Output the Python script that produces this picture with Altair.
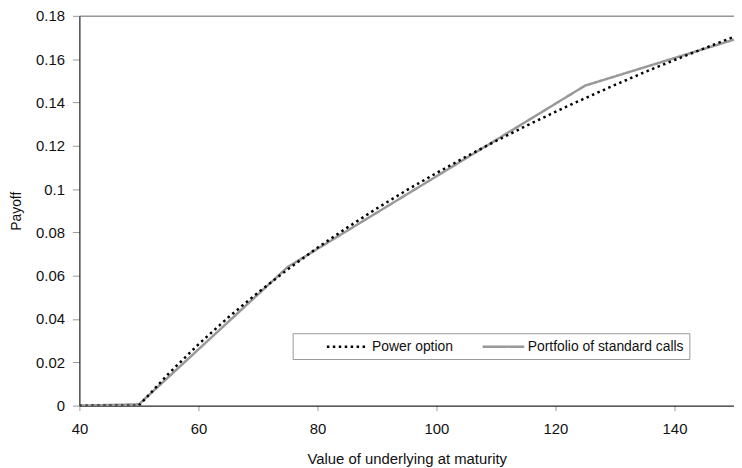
import altair as alt
import pandas as pd

# Power option payoff
power_x = [40, 45, 50, 55, 60, 65, 70, 75, 80, 85, 90, 95, 100, 105, 110,
           115, 120, 125, 130, 135, 140, 145, 150]
power_y = [0, 0, 0, 0.0148, 0.0283, 0.0407, 0.0522, 0.0629, 0.0729, 0.0822,
           0.0911, 0.0995, 0.1074, 0.1150, 0.1222, 0.1291, 0.1357, 0.1420,
           0.1481, 0.1540, 0.1596, 0.1650, 0.1703]

# Portfolio of standard calls (piecewise linear)
port_x = [40, 50, 75, 125, 150]
port_y = [0, 0.0006, 0.0640, 0.1478, 0.1690]

series_names = ["Power option", "Portfolio of standard calls"]
x_ticks = [40, 60, 80, 100, 120, 140]
y_ticks = [0, 0.02, 0.04, 0.06, 0.08, 0.1, 0.12, 0.14, 0.16, 0.18]

df_power = pd.DataFrame({"S": power_x, "payoff": power_y, "series": series_names[0]})
df_port = pd.DataFrame({"S": port_x, "payoff": port_y, "series": series_names[1]})

FONT = "Liberation Sans"

x_enc = alt.X("S:Q", scale=alt.Scale(domain=[40, 150], nice=False, zero=False),
              axis=alt.Axis(title="Value of underlying at maturity", values=x_ticks,
                            grid=False, domainColor="black", tickColor="#999",
                            tickSize=5, labelPadding=11, titlePadding=15,
                            labelFontSize=15, titleFontSize=15, labelFont=FONT,
                            titleFont=FONT, titleFontWeight="normal",
                            labelColor="#111", titleColor="#111", labelFlush=False))
y_enc = alt.Y("payoff:Q", scale=alt.Scale(domain=[0, 0.18], nice=False),
              axis=alt.Axis(title="Payoff", values=y_ticks, format="~g",
                            grid=True,
                            gridColor={"condition": {"test": "datum.value > 0.179", "value": "#999"},
                                       "value": "transparent"},
                            gridWidth=1.5,
                            domainColor="black", tickColor="#999", tickSize=7,
                            labelPadding=8, titlePadding=12,
                            labelFontSize=15, titleFontSize=14, labelFont=FONT,
                            titleFont=FONT, titleFontWeight="normal",
                            labelColor="#111", titleColor="#111"))

legend_opts = dict(title=None, orient="none", legendX=215, legendY=320,
                   direction="horizontal", strokeColor="#999", fillColor="white",
                   padding=5, symbolType="M-3,0H3", symbolSize=196,
                   symbolStrokeWidth=2.5, symbolOffset=42, labelOffset=16,
                   labelFontSize=14, labelFont=FONT, labelColor="#111",
                   columnPadding=0)

color_enc = alt.Color("series:N", scale=alt.Scale(domain=series_names, range=["black", "#999999"]),
                      legend=alt.Legend(**legend_opts))
dash_enc = alt.StrokeDash("series:N", scale=alt.Scale(domain=series_names, range=[[2.5, 3.5], [1, 0]]),
                          legend=alt.Legend(**legend_opts))

port_layer = alt.Chart(df_port).mark_line(strokeWidth=2.5, clip=True).encode(
    x=x_enc, y=y_enc, color=color_enc, strokeDash=dash_enc)
power_layer = alt.Chart(df_power).mark_line(strokeWidth=2.5, clip=True).encode(
    x=x_enc, y=y_enc, color=color_enc, strokeDash=dash_enc)

chart = alt.layer(port_layer, power_layer).properties(
    width=660, height=393,
    autosize=alt.AutoSizeParams(type="none"),
    padding={"left": 72, "top": 6, "right": 0, "bottom": 62},
).configure_view(stroke=None).configure(background="white")

chart.save("out.html", embed_options={"renderer": "svg", "actions": False})
